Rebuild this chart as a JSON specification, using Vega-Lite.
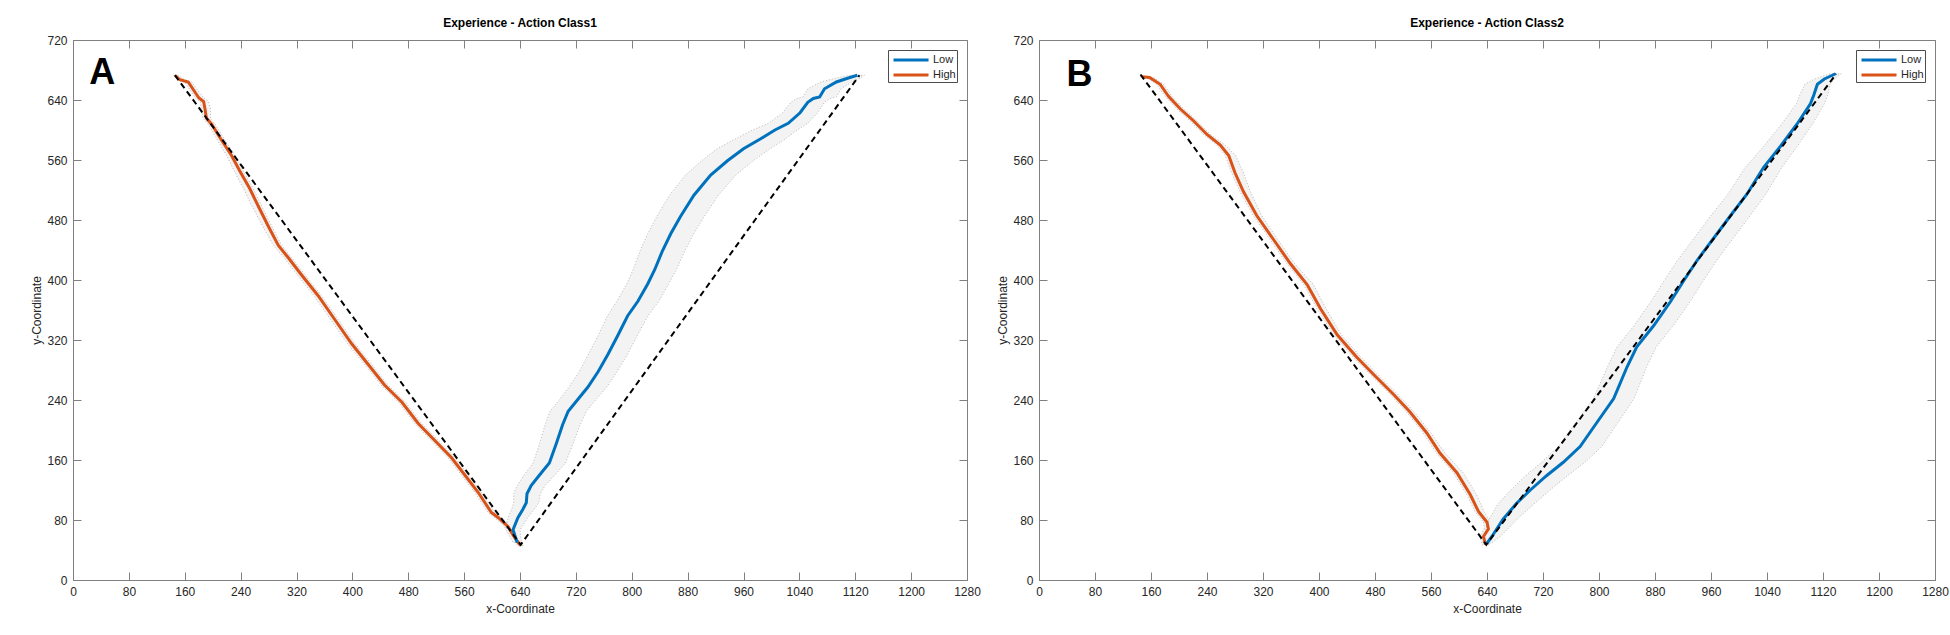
{
  "$schema": "https://vega.github.io/schema/vega-lite/v6.json",
  "background": "white",
  "padding": {"left": 30, "top": 16, "right": 4, "bottom": 5},
  "bounds": "flush",
  "spacing": 72,
  "config": {
    "font": "Liberation Sans",
    "view": {"stroke": "#808080", "strokeWidth": 1},
    "axis": {
      "grid": false,
      "domainColor": "#808080",
      "tickColor": "#808080",
      "tickSize": -8,
      "labelFontSize": 12,
      "labelColor": "#262626",
      "titleFontSize": 12,
      "titleFontWeight": "normal",
      "titleColor": "#262626",
      "labelFlush": false,
      "labelOverlap": false,
      "format": "d"
    },
    "axisX": {"labelPadding": 14, "titlePadding": 6},
    "axisY": {"labelPadding": 14, "titlePadding": 3},
    "title": {"fontSize": 12, "fontWeight": "bold", "color": "#000000", "offset": 4, "anchor": "middle"},
    "legend": {
      "orient": "top-right",
      "offset": 10,
      "padding": 1,
      "strokeColor": "#4d4d4d",
      "fillColor": "white",
      "cornerRadius": 0,
      "symbolType": "M-0.6,0H4.07",
      "symbolStrokeWidth": 3,
      "symbolSize": 225,
      "labelFontSize": 11,
      "labelColor": "#262626",
      "labelOffset": 26,
      "rowPadding": 0
    }
  },
  "datasets": {
    "paths": [
      {"panel": "A", "group": "High", "step": 1, "x": 146, "y": 673, "lo": 144, "hi": 150},
      {"panel": "A", "group": "High", "step": 2, "x": 153, "y": 667, "lo": 149, "hi": 160},
      {"panel": "A", "group": "High", "step": 3, "x": 165, "y": 664, "lo": 160, "hi": 170},
      {"panel": "A", "group": "High", "step": 4, "x": 175, "y": 650, "lo": 170, "hi": 181},
      {"panel": "A", "group": "High", "step": 5, "x": 180, "y": 643, "lo": 175, "hi": 187},
      {"panel": "A", "group": "High", "step": 6, "x": 187, "y": 638, "lo": 182, "hi": 194},
      {"panel": "A", "group": "High", "step": 7, "x": 189, "y": 628, "lo": 184, "hi": 197},
      {"panel": "A", "group": "High", "step": 8, "x": 191, "y": 616, "lo": 186, "hi": 197},
      {"panel": "A", "group": "High", "step": 9, "x": 199, "y": 607, "lo": 194, "hi": 204},
      {"panel": "A", "group": "High", "step": 10, "x": 213, "y": 586, "lo": 207, "hi": 218},
      {"panel": "A", "group": "High", "step": 11, "x": 227, "y": 566, "lo": 220, "hi": 232},
      {"panel": "A", "group": "High", "step": 12, "x": 239, "y": 545, "lo": 231, "hi": 244},
      {"panel": "A", "group": "High", "step": 13, "x": 253, "y": 522, "lo": 244, "hi": 258},
      {"panel": "A", "group": "High", "step": 14, "x": 265, "y": 499, "lo": 256, "hi": 270},
      {"panel": "A", "group": "High", "step": 15, "x": 280, "y": 471, "lo": 272, "hi": 285},
      {"panel": "A", "group": "High", "step": 16, "x": 294, "y": 446, "lo": 287, "hi": 299},
      {"panel": "A", "group": "High", "step": 17, "x": 308, "y": 430, "lo": 302, "hi": 313},
      {"panel": "A", "group": "High", "step": 18, "x": 327, "y": 407, "lo": 321, "hi": 332},
      {"panel": "A", "group": "High", "step": 19, "x": 351, "y": 379, "lo": 345, "hi": 356},
      {"panel": "A", "group": "High", "step": 20, "x": 375, "y": 347, "lo": 369, "hi": 380},
      {"panel": "A", "group": "High", "step": 21, "x": 399, "y": 315, "lo": 393, "hi": 404},
      {"panel": "A", "group": "High", "step": 22, "x": 423, "y": 287, "lo": 418, "hi": 428},
      {"panel": "A", "group": "High", "step": 23, "x": 446, "y": 260, "lo": 441, "hi": 451},
      {"panel": "A", "group": "High", "step": 24, "x": 471, "y": 237, "lo": 466, "hi": 476},
      {"panel": "A", "group": "High", "step": 25, "x": 494, "y": 209, "lo": 489, "hi": 499},
      {"panel": "A", "group": "High", "step": 26, "x": 518, "y": 186, "lo": 513, "hi": 523},
      {"panel": "A", "group": "High", "step": 27, "x": 542, "y": 163, "lo": 537, "hi": 547},
      {"panel": "A", "group": "High", "step": 28, "x": 561, "y": 140, "lo": 556, "hi": 566},
      {"panel": "A", "group": "High", "step": 29, "x": 580, "y": 117, "lo": 575, "hi": 585},
      {"panel": "A", "group": "High", "step": 30, "x": 599, "y": 90, "lo": 594, "hi": 604},
      {"panel": "A", "group": "High", "step": 31, "x": 609, "y": 83, "lo": 604, "hi": 614},
      {"panel": "A", "group": "High", "step": 32, "x": 623, "y": 71, "lo": 618, "hi": 628},
      {"panel": "A", "group": "High", "step": 33, "x": 630, "y": 60, "lo": 625, "hi": 636},
      {"panel": "A", "group": "High", "step": 34, "x": 635, "y": 53, "lo": 631, "hi": 640},
      {"panel": "A", "group": "High", "step": 35, "x": 641, "y": 46, "lo": 637, "hi": 645},
      {"panel": "A", "group": "Low", "step": 1, "x": 636, "y": 50, "lo": 630, "hi": 642},
      {"panel": "A", "group": "Low", "step": 2, "x": 630, "y": 67, "lo": 620, "hi": 640},
      {"panel": "A", "group": "Low", "step": 3, "x": 637, "y": 83, "lo": 623, "hi": 651},
      {"panel": "A", "group": "Low", "step": 4, "x": 644, "y": 94, "lo": 628, "hi": 660},
      {"panel": "A", "group": "Low", "step": 5, "x": 649, "y": 103, "lo": 631, "hi": 667},
      {"panel": "A", "group": "Low", "step": 6, "x": 650, "y": 115, "lo": 631, "hi": 669},
      {"panel": "A", "group": "Low", "step": 7, "x": 656, "y": 126, "lo": 636, "hi": 676},
      {"panel": "A", "group": "Low", "step": 8, "x": 668, "y": 140, "lo": 646, "hi": 690},
      {"panel": "A", "group": "Low", "step": 9, "x": 682, "y": 156, "lo": 659, "hi": 705},
      {"panel": "A", "group": "Low", "step": 10, "x": 692, "y": 182, "lo": 668, "hi": 716},
      {"panel": "A", "group": "Low", "step": 11, "x": 701, "y": 207, "lo": 676, "hi": 726},
      {"panel": "A", "group": "Low", "step": 12, "x": 709, "y": 225, "lo": 683, "hi": 735},
      {"panel": "A", "group": "Low", "step": 13, "x": 723, "y": 241, "lo": 697, "hi": 749},
      {"panel": "A", "group": "Low", "step": 14, "x": 737, "y": 257, "lo": 710, "hi": 764},
      {"panel": "A", "group": "Low", "step": 15, "x": 752, "y": 278, "lo": 725, "hi": 779},
      {"panel": "A", "group": "Low", "step": 16, "x": 766, "y": 301, "lo": 738, "hi": 794},
      {"panel": "A", "group": "Low", "step": 17, "x": 780, "y": 326, "lo": 752, "hi": 808},
      {"panel": "A", "group": "Low", "step": 18, "x": 794, "y": 352, "lo": 765, "hi": 823},
      {"panel": "A", "group": "Low", "step": 19, "x": 809, "y": 372, "lo": 779, "hi": 839},
      {"panel": "A", "group": "Low", "step": 20, "x": 823, "y": 395, "lo": 793, "hi": 853},
      {"panel": "A", "group": "Low", "step": 21, "x": 833, "y": 414, "lo": 802, "hi": 864},
      {"panel": "A", "group": "Low", "step": 22, "x": 844, "y": 439, "lo": 812, "hi": 876},
      {"panel": "A", "group": "Low", "step": 23, "x": 856, "y": 462, "lo": 823, "hi": 889},
      {"panel": "A", "group": "Low", "step": 24, "x": 870, "y": 485, "lo": 836, "hi": 904},
      {"panel": "A", "group": "Low", "step": 25, "x": 889, "y": 513, "lo": 854, "hi": 924},
      {"panel": "A", "group": "Low", "step": 26, "x": 913, "y": 540, "lo": 877, "hi": 949},
      {"panel": "A", "group": "Low", "step": 27, "x": 937, "y": 559, "lo": 900, "hi": 974},
      {"panel": "A", "group": "Low", "step": 28, "x": 960, "y": 575, "lo": 922, "hi": 998},
      {"panel": "A", "group": "Low", "step": 29, "x": 984, "y": 588, "lo": 948, "hi": 1020},
      {"panel": "A", "group": "Low", "step": 30, "x": 1005, "y": 600, "lo": 973, "hi": 1037},
      {"panel": "A", "group": "Low", "step": 31, "x": 1024, "y": 609, "lo": 996, "hi": 1052},
      {"panel": "A", "group": "Low", "step": 32, "x": 1041, "y": 623, "lo": 1016, "hi": 1066},
      {"panel": "A", "group": "Low", "step": 33, "x": 1052, "y": 637, "lo": 1028, "hi": 1076},
      {"panel": "A", "group": "Low", "step": 34, "x": 1060, "y": 642, "lo": 1036, "hi": 1084},
      {"panel": "A", "group": "Low", "step": 35, "x": 1069, "y": 644, "lo": 1045, "hi": 1093},
      {"panel": "A", "group": "Low", "step": 36, "x": 1076, "y": 655, "lo": 1052, "hi": 1100},
      {"panel": "A", "group": "Low", "step": 37, "x": 1093, "y": 664, "lo": 1071, "hi": 1115},
      {"panel": "A", "group": "Low", "step": 38, "x": 1109, "y": 669, "lo": 1091, "hi": 1127},
      {"panel": "A", "group": "Low", "step": 39, "x": 1123, "y": 673, "lo": 1113, "hi": 1133},
      {"panel": "B", "group": "High", "step": 1, "x": 147, "y": 671, "lo": 144, "hi": 152},
      {"panel": "B", "group": "High", "step": 2, "x": 158, "y": 670, "lo": 154, "hi": 164},
      {"panel": "B", "group": "High", "step": 3, "x": 173, "y": 661, "lo": 168, "hi": 178},
      {"panel": "B", "group": "High", "step": 4, "x": 185, "y": 645, "lo": 180, "hi": 190},
      {"panel": "B", "group": "High", "step": 5, "x": 202, "y": 628, "lo": 197, "hi": 207},
      {"panel": "B", "group": "High", "step": 6, "x": 221, "y": 612, "lo": 216, "hi": 226},
      {"panel": "B", "group": "High", "step": 7, "x": 240, "y": 594, "lo": 235, "hi": 245},
      {"panel": "B", "group": "High", "step": 8, "x": 259, "y": 580, "lo": 254, "hi": 266},
      {"panel": "B", "group": "High", "step": 9, "x": 271, "y": 566, "lo": 266, "hi": 281},
      {"panel": "B", "group": "High", "step": 10, "x": 280, "y": 543, "lo": 275, "hi": 292},
      {"panel": "B", "group": "High", "step": 11, "x": 292, "y": 518, "lo": 287, "hi": 302},
      {"panel": "B", "group": "High", "step": 12, "x": 311, "y": 486, "lo": 306, "hi": 318},
      {"panel": "B", "group": "High", "step": 13, "x": 335, "y": 454, "lo": 330, "hi": 341},
      {"panel": "B", "group": "High", "step": 14, "x": 359, "y": 422, "lo": 354, "hi": 365},
      {"panel": "B", "group": "High", "step": 15, "x": 383, "y": 394, "lo": 378, "hi": 392},
      {"panel": "B", "group": "High", "step": 16, "x": 402, "y": 362, "lo": 397, "hi": 410},
      {"panel": "B", "group": "High", "step": 17, "x": 426, "y": 327, "lo": 421, "hi": 432},
      {"panel": "B", "group": "High", "step": 18, "x": 454, "y": 297, "lo": 449, "hi": 460},
      {"panel": "B", "group": "High", "step": 19, "x": 478, "y": 274, "lo": 473, "hi": 484},
      {"panel": "B", "group": "High", "step": 20, "x": 507, "y": 247, "lo": 502, "hi": 513},
      {"panel": "B", "group": "High", "step": 21, "x": 530, "y": 224, "lo": 525, "hi": 536},
      {"panel": "B", "group": "High", "step": 22, "x": 554, "y": 196, "lo": 549, "hi": 560},
      {"panel": "B", "group": "High", "step": 23, "x": 573, "y": 169, "lo": 568, "hi": 580},
      {"panel": "B", "group": "High", "step": 24, "x": 597, "y": 143, "lo": 592, "hi": 606},
      {"panel": "B", "group": "High", "step": 25, "x": 616, "y": 114, "lo": 611, "hi": 625},
      {"panel": "B", "group": "High", "step": 26, "x": 628, "y": 91, "lo": 623, "hi": 636},
      {"panel": "B", "group": "High", "step": 27, "x": 640, "y": 77, "lo": 635, "hi": 645},
      {"panel": "B", "group": "High", "step": 28, "x": 642, "y": 68, "lo": 636, "hi": 647},
      {"panel": "B", "group": "High", "step": 29, "x": 635, "y": 58, "lo": 630, "hi": 641},
      {"panel": "B", "group": "High", "step": 30, "x": 638, "y": 47, "lo": 633, "hi": 643},
      {"panel": "B", "group": "Low", "step": 1, "x": 640, "y": 49, "lo": 634, "hi": 646},
      {"panel": "B", "group": "Low", "step": 2, "x": 647, "y": 58, "lo": 635, "hi": 659},
      {"panel": "B", "group": "Low", "step": 3, "x": 663, "y": 81, "lo": 643, "hi": 683},
      {"panel": "B", "group": "Low", "step": 4, "x": 682, "y": 102, "lo": 656, "hi": 708},
      {"panel": "B", "group": "Low", "step": 5, "x": 702, "y": 120, "lo": 674, "hi": 730},
      {"panel": "B", "group": "Low", "step": 6, "x": 725, "y": 139, "lo": 695, "hi": 755},
      {"panel": "B", "group": "Low", "step": 7, "x": 749, "y": 157, "lo": 718, "hi": 780},
      {"panel": "B", "group": "Low", "step": 8, "x": 773, "y": 178, "lo": 742, "hi": 804},
      {"panel": "B", "group": "Low", "step": 9, "x": 797, "y": 210, "lo": 767, "hi": 827},
      {"panel": "B", "group": "Low", "step": 10, "x": 821, "y": 242, "lo": 792, "hi": 850},
      {"panel": "B", "group": "Low", "step": 11, "x": 840, "y": 284, "lo": 812, "hi": 868},
      {"panel": "B", "group": "Low", "step": 12, "x": 854, "y": 311, "lo": 826, "hi": 882},
      {"panel": "B", "group": "Low", "step": 13, "x": 878, "y": 339, "lo": 850, "hi": 906},
      {"panel": "B", "group": "Low", "step": 14, "x": 902, "y": 371, "lo": 874, "hi": 930},
      {"panel": "B", "group": "Low", "step": 15, "x": 921, "y": 399, "lo": 893, "hi": 949},
      {"panel": "B", "group": "Low", "step": 16, "x": 940, "y": 426, "lo": 912, "hi": 968},
      {"panel": "B", "group": "Low", "step": 17, "x": 964, "y": 456, "lo": 936, "hi": 992},
      {"panel": "B", "group": "Low", "step": 18, "x": 988, "y": 486, "lo": 960, "hi": 1016},
      {"panel": "B", "group": "Low", "step": 19, "x": 1011, "y": 514, "lo": 984, "hi": 1038},
      {"panel": "B", "group": "Low", "step": 20, "x": 1035, "y": 550, "lo": 1009, "hi": 1061},
      {"panel": "B", "group": "Low", "step": 21, "x": 1059, "y": 578, "lo": 1035, "hi": 1083},
      {"panel": "B", "group": "Low", "step": 22, "x": 1083, "y": 608, "lo": 1061, "hi": 1105},
      {"panel": "B", "group": "Low", "step": 23, "x": 1102, "y": 635, "lo": 1082, "hi": 1122},
      {"panel": "B", "group": "Low", "step": 24, "x": 1107, "y": 647, "lo": 1087, "hi": 1127},
      {"panel": "B", "group": "Low", "step": 25, "x": 1112, "y": 661, "lo": 1094, "hi": 1130},
      {"panel": "B", "group": "Low", "step": 26, "x": 1122, "y": 668, "lo": 1108, "hi": 1136},
      {"panel": "B", "group": "Low", "step": 27, "x": 1138, "y": 675, "lo": 1130, "hi": 1146}
    ],
    "refs": [
      {"panel": "A", "step": 1, "x": 146, "y": 673},
      {"panel": "A", "step": 2, "x": 641, "y": 47},
      {"panel": "A", "step": 3, "x": 1126, "y": 673},
      {"panel": "B", "step": 1, "x": 145, "y": 674},
      {"panel": "B", "step": 2, "x": 639, "y": 47},
      {"panel": "B", "step": 3, "x": 1139, "y": 675}
    ],
    "tags": [
      {"panel": "A", "label": "A", "x": 42, "y": 676},
      {"panel": "B", "label": "B", "x": 58, "y": 674}
    ]
  },
  "hconcat": [
    {
      "width": 894,
      "height": 540,
      "title": "Experience - Action Class1",
      "resolve": {"axis": {"x": "independent", "y": "independent"}},
      "layer": [
        {
          "data": {"name": "paths"},
          "transform": [{"filter": "datum.panel === 'A'"}],
          "mark": {"type": "area", "orient": "horizontal", "fill": "#f3f3f3", "stroke": "#a6a6a6", "strokeWidth": 0.8, "strokeDash": [1, 2]},
          "encoding": {
            "y": {"field": "y", "type": "quantitative", "scale": {"domain": [0, 720], "nice": false, "zero": false}, "axis": null},
            "x": {"field": "lo", "type": "quantitative", "scale": {"domain": [0, 1280], "nice": false, "zero": false}, "axis": null},
            "x2": {"field": "hi"},
            "detail": {"field": "group"}
          }
        },
        {
          "data": {"name": "paths"},
          "transform": [{"filter": "datum.panel === 'A'"}],
          "mark": {"type": "line", "strokeWidth": 3},
          "encoding": {
            "x": {"field": "x", "type": "quantitative", "scale": {"domain": [0, 1280], "nice": false, "zero": false},
                  "axis": {"orient": "bottom", "title": "x-Coordinate", "values": [0, 80, 160, 240, 320, 400, 480, 560, 640, 720, 800, 880, 960, 1040, 1120, 1200, 1280]}},
            "y": {"field": "y", "type": "quantitative", "scale": {"domain": [0, 720], "nice": false, "zero": false},
                  "axis": {"orient": "left", "title": "y-Coordinate", "values": [0, 80, 160, 240, 320, 400, 480, 560, 640, 720]}},
            "order": {"field": "step", "type": "quantitative"},
            "color": {"field": "group", "type": "nominal", "title": null,
                      "scale": {"domain": ["Low", "High"], "range": ["#0072BD", "#D95319"]}}
          }
        },
        {
          "data": {"name": "refs"},
          "transform": [{"filter": "datum.panel === 'A'"}],
          "mark": {"type": "line", "color": "#000000", "strokeWidth": 2, "strokeDash": [6, 4]},
          "encoding": {
            "x": {"field": "x", "type": "quantitative", "scale": {"domain": [0, 1280], "nice": false, "zero": false}, "axis": null},
            "y": {"field": "y", "type": "quantitative", "scale": {"domain": [0, 720], "nice": false, "zero": false}, "axis": null},
            "order": {"field": "step", "type": "quantitative"}
          }
        },
        {
          "data": {"name": "tags"},
          "transform": [{"filter": "datum.panel === 'A'"}],
          "mark": {"type": "text", "fontSize": 36, "fontWeight": "bold", "color": "#000000", "align": "center", "baseline": "middle"},
          "encoding": {
            "x": {"field": "x", "type": "quantitative", "scale": {"domain": [0, 1280], "nice": false, "zero": false}, "axis": null},
            "y": {"field": "y", "type": "quantitative", "scale": {"domain": [0, 720], "nice": false, "zero": false}, "axis": null},
            "text": {"field": "label"}
          }
        },
        {
          "data": {"name": "refs"},
          "transform": [{"filter": "datum.panel === 'A'"}],
          "mark": {"type": "point", "opacity": 0},
          "encoding": {
            "x": {"field": "x", "type": "quantitative", "scale": {"domain": [0, 1280], "nice": false, "zero": false},
                  "axis": {"orient": "top", "labels": false, "title": null, "domain": false, "values": [0, 80, 160, 240, 320, 400, 480, 560, 640, 720, 800, 880, 960, 1040, 1120, 1200, 1280]}},
            "y": {"field": "y", "type": "quantitative", "scale": {"domain": [0, 720], "nice": false, "zero": false},
                  "axis": {"orient": "right", "labels": false, "title": null, "domain": false, "values": [0, 80, 160, 240, 320, 400, 480, 560, 640, 720]}}
          }
        }
      ]
    },
    {
      "width": 896,
      "height": 540,
      "title": "Experience - Action Class2",
      "resolve": {"axis": {"x": "independent", "y": "independent"}},
      "layer": [
        {
          "data": {"name": "paths"},
          "transform": [{"filter": "datum.panel === 'B'"}],
          "mark": {"type": "area", "orient": "horizontal", "fill": "#f3f3f3", "stroke": "#a6a6a6", "strokeWidth": 0.8, "strokeDash": [1, 2]},
          "encoding": {
            "y": {"field": "y", "type": "quantitative", "scale": {"domain": [0, 720], "nice": false, "zero": false}, "axis": null},
            "x": {"field": "lo", "type": "quantitative", "scale": {"domain": [0, 1280], "nice": false, "zero": false}, "axis": null},
            "x2": {"field": "hi"},
            "detail": {"field": "group"}
          }
        },
        {
          "data": {"name": "paths"},
          "transform": [{"filter": "datum.panel === 'B'"}],
          "mark": {"type": "line", "strokeWidth": 3},
          "encoding": {
            "x": {"field": "x", "type": "quantitative", "scale": {"domain": [0, 1280], "nice": false, "zero": false},
                  "axis": {"orient": "bottom", "title": "x-Coordinate", "values": [0, 80, 160, 240, 320, 400, 480, 560, 640, 720, 800, 880, 960, 1040, 1120, 1200, 1280]}},
            "y": {"field": "y", "type": "quantitative", "scale": {"domain": [0, 720], "nice": false, "zero": false},
                  "axis": {"orient": "left", "title": "y-Coordinate", "values": [0, 80, 160, 240, 320, 400, 480, 560, 640, 720]}},
            "order": {"field": "step", "type": "quantitative"},
            "color": {"field": "group", "type": "nominal", "title": null,
                      "scale": {"domain": ["Low", "High"], "range": ["#0072BD", "#D95319"]}}
          }
        },
        {
          "data": {"name": "refs"},
          "transform": [{"filter": "datum.panel === 'B'"}],
          "mark": {"type": "line", "color": "#000000", "strokeWidth": 2, "strokeDash": [6, 4]},
          "encoding": {
            "x": {"field": "x", "type": "quantitative", "scale": {"domain": [0, 1280], "nice": false, "zero": false}, "axis": null},
            "y": {"field": "y", "type": "quantitative", "scale": {"domain": [0, 720], "nice": false, "zero": false}, "axis": null},
            "order": {"field": "step", "type": "quantitative"}
          }
        },
        {
          "data": {"name": "tags"},
          "transform": [{"filter": "datum.panel === 'B'"}],
          "mark": {"type": "text", "fontSize": 36, "fontWeight": "bold", "color": "#000000", "align": "center", "baseline": "middle"},
          "encoding": {
            "x": {"field": "x", "type": "quantitative", "scale": {"domain": [0, 1280], "nice": false, "zero": false}, "axis": null},
            "y": {"field": "y", "type": "quantitative", "scale": {"domain": [0, 720], "nice": false, "zero": false}, "axis": null},
            "text": {"field": "label"}
          }
        },
        {
          "data": {"name": "refs"},
          "transform": [{"filter": "datum.panel === 'B'"}],
          "mark": {"type": "point", "opacity": 0},
          "encoding": {
            "x": {"field": "x", "type": "quantitative", "scale": {"domain": [0, 1280], "nice": false, "zero": false},
                  "axis": {"orient": "top", "labels": false, "title": null, "domain": false, "values": [0, 80, 160, 240, 320, 400, 480, 560, 640, 720, 800, 880, 960, 1040, 1120, 1200, 1280]}},
            "y": {"field": "y", "type": "quantitative", "scale": {"domain": [0, 720], "nice": false, "zero": false},
                  "axis": {"orient": "right", "labels": false, "title": null, "domain": false, "values": [0, 80, 160, 240, 320, 400, 480, 560, 640, 720]}}
          }
        }
      ]
    }
  ],
  "resolve": {"scale": {"color": "independent"}, "legend": {"color": "independent"}}
}
